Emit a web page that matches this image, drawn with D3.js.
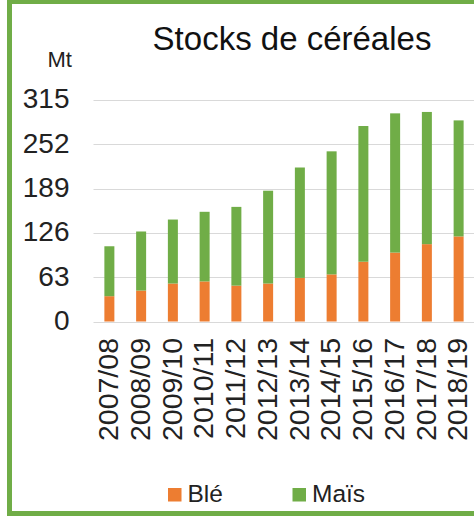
<!DOCTYPE html>
<html>
<head>
<meta charset="utf-8">
<script src="https://cdn.jsdelivr.net/npm/d3@7"></script>
<style>
  html, body { margin: 0; padding: 0; background: #fff; }
  svg { display: block; font-family: "Liberation Sans", Arial, sans-serif; }
</style>
</head>
<body>
<svg id="chart" width="474" height="519"></svg>
<script>
const categories = ["2007/08","2008/09","2009/10","2010/11","2011/12","2012/13","2013/14","2014/15","2015/16","2016/17","2017/18","2018/19"];
const ble  = [36, 44, 54, 57, 51, 54, 62, 67, 85, 98, 110, 121];
const mais = [71, 84, 91, 99, 112, 132, 157, 175, 193, 198, 188, 165];
const yTicks = [0, 63, 126, 189, 252, 315];
const seriesNames = ["Blé", "Maïs"];
const colors = ["#ED7D31", "#70AD47"];

const svg = d3.select("#chart");

// frame
svg.append("rect")
  .attr("x", 9.5).attr("y", 1.5)
  .attr("width", 520).attr("height", 512)
  .attr("fill", "none")
  .attr("stroke", "#70AD47")
  .attr("stroke-width", 5);

const x = d3.scaleBand()
  .domain(categories)
  .range([93.5, 474.5])
  .paddingInner(0.685)
  .paddingOuter(0.3425);

const y = d3.scaleLinear().domain([0, 315]).range([321.5, 100]);

// gridlines
svg.append("g").selectAll("line").data(yTicks).join("line")
  .attr("x1", 93.5).attr("x2", 474)
  .attr("y1", d => Math.round(y(d)) + 0.5)
  .attr("y2", d => Math.round(y(d)) + 0.5)
  .attr("stroke", "#d9d9d9").attr("stroke-width", 1.2);

// y tick labels
svg.append("g").selectAll("text").data(yTicks).join("text")
  .attr("x", 69.5).attr("y", d => y(d))
  .attr("dy", "0.3em")
  .attr("text-anchor", "end")
  .attr("font-size", 28)
  .attr("fill", "#222")
  .text(d => d);

// unit
svg.append("text").attr("x", 72).attr("y", 67)
  .attr("text-anchor", "end").attr("font-size", 22).attr("fill", "#222")
  .text("Mt");

// title
svg.append("text").attr("x", 292).attr("y", 50)
  .attr("text-anchor", "middle").attr("font-size", 33).attr("fill", "#111")
  .text("Stocks de céréales");

// stacked bars
const rows = categories.map((c, i) => ({ cat: c, "Blé": ble[i], "Maïs": mais[i] }));
const stack = d3.stack().keys(seriesNames)(rows);
svg.append("g").selectAll("g").data(stack).join("g")
  .attr("fill", (d, i) => colors[i])
  .selectAll("rect").data(d => d).join("rect")
  .attr("x", d => x(d.data.cat))
  .attr("width", x.bandwidth())
  .attr("y", d => y(d[1]))
  .attr("height", d => y(d[0]) - y(d[1]));

// x labels
svg.append("g").selectAll("text").data(categories).join("text")
  .attr("transform", d => `translate(${x(d) + x.bandwidth() / 2 - 1.5},338) rotate(-90)`)
  .attr("dy", "0.36em")
  .attr("text-anchor", "end")
  .attr("font-size", 28.5)
  .attr("fill", "#222")
  .text(d => d);

// legend
const legendX = [168, 292.5];
const lg = svg.append("g").selectAll("g").data(seriesNames).join("g")
  .attr("transform", (d, i) => `translate(${legendX[i]},488)`);
lg.append("rect").attr("width", 13.5).attr("height", 13.5)
  .attr("fill", (d, i) => colors[i]);
lg.append("text").attr("x", 19.5).attr("y", 13.5)
  .attr("font-size", 24.5).attr("fill", "#222")
  .text(d => d);
</script>
</body>
</html>
